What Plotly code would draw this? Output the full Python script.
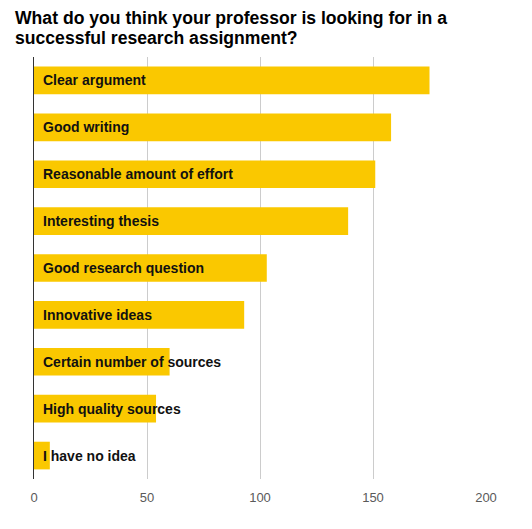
import plotly.graph_objects as go

categories = ["Clear argument", "Good writing", "Reasonable amount of effort",
              "Interesting thesis", "Good research question", "Innovative ideas",
              "Certain number of sources", "High quality sources", "I have no idea"]
values = [175, 158, 151, 139, 103, 93, 60, 54, 7]
tick_vals = [0, 50, 100, 150, 200]
title_lines = ["What do you think your professor is looking for in a",
               "successful research assignment?"]

# page body has an 8px margin; compensate so the figure fills the 532x529 window
OFF = 8
W, H = 532 - OFF, 529 - OFF
L, R, T, B = 34 - OFF, 46, 57 - OFF, 50
pw, ph = W - L - R, H - T - B
plot_top, plot_bottom, plot_left = 57, 479, 34  # window pixel coordinates

fig = go.Figure()
fig.add_trace(go.Bar(
    x=values, y=categories, orientation="h",
    marker=dict(color="#FAC800", line=dict(width=0)),
    hoverinfo="x+y",
))

annotations = []
for c in categories:
    annotations.append(dict(
        x=0, y=c, xref="x", yref="y", text="<b>" + c + "</b>", showarrow=False,
        xanchor="left", yanchor="middle", xshift=7,
        font=dict(family="Liberation Sans, Arial", size=14, color="#111111"),
    ))
for i, line in enumerate(title_lines):
    py = 18 + 20 * i
    annotations.append(dict(
        x=(13 - plot_left) / pw, y=(plot_bottom - py) / ph, xref="paper", yref="paper",
        text="<b>" + line + "</b>", showarrow=False,
        xanchor="left", yanchor="middle",
        font=dict(family="Liberation Sans, Arial", size=17.6, color="#000000"),
    ))

fig.update_layout(
    width=W, height=H,
    margin=dict(l=L, r=R, t=T, b=B, pad=0),
    paper_bgcolor="white", plot_bgcolor="white",
    bargap=0.41,
    showlegend=False,
    font=dict(family="Liberation Sans, Arial"),
    annotations=annotations,
    xaxis=dict(
        range=[0, 200], tickvals=tick_vals, ticktext=[str(v) for v in tick_vals],
        showgrid=True, gridcolor="#cccccc", gridwidth=1,
        zeroline=False, showline=False, ticks="",
        ticklabelstandoff=9,
        tickfont=dict(size=13, color="#5a5a5a", family="Liberation Sans, Arial"),
        fixedrange=True, automargin=False,
    ),
    yaxis=dict(
        categoryorder="array", categoryarray=categories[::-1],
        range=[-0.5, len(categories) - 0.5],
        showticklabels=False, showgrid=False, zeroline=False,
        showline=True, linecolor="#333333", linewidth=1, ticks="",
        fixedrange=True, automargin=False,
    ),
)

fig.write_html("out.html")
